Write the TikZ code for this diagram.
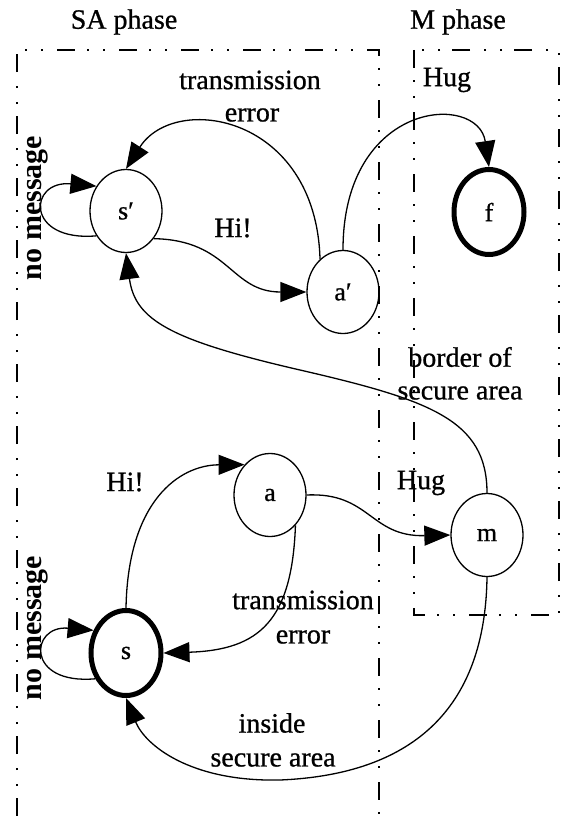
\documentclass[tikz,border=0pt]{standalone}
\usepackage{fontspec}
\setmainfont{Liberation Serif}
\newfontfamily\heavyfont[FakeBold=0.8]{Liberation Serif}
\usetikzlibrary{shapes.geometric,arrows.meta}
\begin{document}
\begin{tikzpicture}[x=1pt,y=-1pt,
  state/.style={ellipse,draw,line width=1.3pt,minimum width=72pt,minimum height=83pt,inner sep=0pt,font=\heavyfont\fontsize{26}{30}\selectfont},
  accept/.style={state,line width=5pt,minimum width=70pt,minimum height=85pt},
  lbl/.style={font=\heavyfont\fontsize{28}{32}\selectfont,inner sep=0pt},
  sidelbl/.style={inner sep=0pt,font=\fontsize{30}{34}\selectfont\bfseries,rotate=90},
  edge/.style={line width=1.3pt,-{Triangle[length=26pt,width=20pt]}},
  phase/.style={line width=1.6pt,dash pattern=on 18pt off 12pt on 2pt off 14pt on 2pt off 14pt},
]
\useasboundingbox[fill=white] (0,0) rectangle (562,816);

% phase boxes
\draw[phase] (17,816) -- (17,50) -- (379,50) -- (379,816);
\draw[phase] (414,50) rectangle (559,615);

% phase titles
\node[lbl] (saph) at (124,22) {SA phase};
\node[lbl] (mph) at (458,22) {M phase};

% states
\node[state]  (sp) at (126,211) {s′};
\node[state]  (ap) at (343,292) {a′};
\node[accept] (f)  at (489,212) {f};
\node[state]  (a)  at (270,495) {a};
\node[state]  (m)  at (487,535) {m};
\node[accept] (s)  at (126,653) {s};

% labels
\node[lbl] (t1) at (250,80) {transmission};
\node[lbl] (e1) at (252,115) {error};
\node[lbl] (hug1) at (447,80) {Hug};
\node[lbl] (hi1) at (233,228) {Hi!};
\node[sidelbl] (nm1) at (37,208) {no message};
\node[lbl] (b1) at (460,357) {border of};
\node[lbl] (b2) at (460,393) {secure area};
\node[lbl] (hi2) at (125,482) {Hi!};
\node[lbl] (hug2) at (421,483) {Hug};
\node[sidelbl] (nm2) at (37,628) {no message};
\node[lbl] (t2) at (303,600) {transmission};
\node[lbl] (e2) at (303,637) {error};
\node[lbl] (i1) at (272,723) {inside};
\node[lbl] (i2) at (273,760) {secure area};

% edges
\draw[edge] (sp.220) .. controls (25,242) and (28,180) .. (sp.140);
\draw[edge] (sp.-45) .. controls (230,240) and (230,292) .. (ap.west);
\draw[edge] (ap.125) .. controls (316,115) and (175,92) .. (sp.north);
\draw[edge] (ap.north) .. controls (343,100) and (478,92) .. (f.north);
\draw[edge] (m.north) .. controls (487,420) and (430,400) .. (300,370) .. controls (170,340) and (135,320) .. (sp.south);
\draw[edge] (s.north) .. controls (128,500) and (180,465) .. (a.130);
\draw[edge] (a.-50) .. controls (292,620) and (260,650) .. (s.east);
\draw[edge] (a.east) .. controls (370,492) and (370,537) .. (m.west);
\draw[edge] (m.south) .. controls (485,720) and (400,775) .. (280,780) .. controls (190,782) and (145,745) .. (s.south);
\draw[edge] (s.220) .. controls (25,685) and (30,625) .. (s.145);
\end{tikzpicture}
\end{document}
